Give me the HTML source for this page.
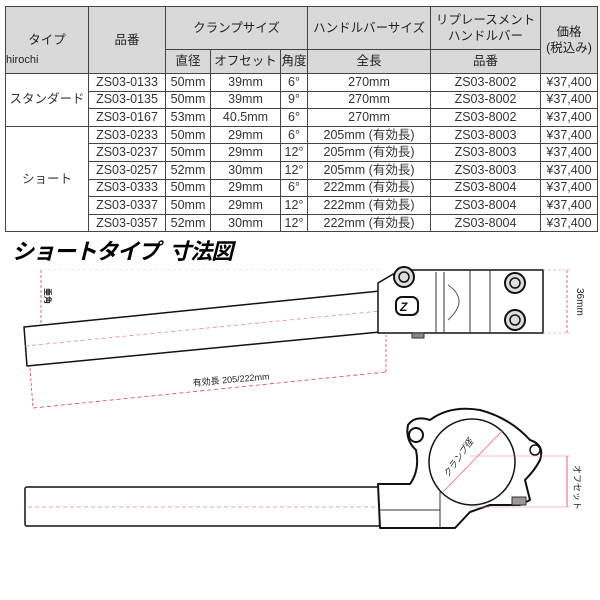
<!DOCTYPE html>
<html><head><meta charset="utf-8"><style>
body{margin:0;background:#fff;width:600px;height:600px;overflow:hidden;position:relative;font-family:"Liberation Sans","Noto Sans CJK JP",sans-serif}
table{position:absolute;left:5px;top:6px;border-collapse:collapse;width:592px;table-layout:fixed;font-size:12.5px;color:#333}
td{border:1px solid #444;text-align:center;padding:0;height:16.6px;line-height:15px;white-space:nowrap;overflow:hidden}
.h td{background:#d9d9d9;color:#222;font-size:12.5px}
.w{position:absolute;left:6px;top:54px;font-size:11px;color:#222}
</style></head><body>
<table>
<colgroup><col style="width:83px"><col style="width:77px"><col style="width:45px"><col style="width:70px"><col style="width:27px"><col style="width:123px"><col style="width:110px"><col style="width:57px"></colgroup>
<tr class="h"><td rowspan="2" style="height:66px">タイプ</td><td rowspan="2">品番</td><td colspan="3" style="height:42px">クランプサイズ</td><td>ハンドルバーサイズ</td><td style="line-height:16px">リプレースメント<br>ハンドルバー</td><td rowspan="2" style="line-height:16px">価格<br>(税込み)</td></tr>
<tr class="h"><td style="height:23px">直径</td><td>オフセット</td><td>角度</td><td>全長</td><td>品番</td></tr>
<tr><td rowspan="3">スタンダード</td><td>ZS03-0133</td><td>50mm</td><td>39mm</td><td>6°</td><td>270mm</td><td>ZS03-8002</td><td>¥37,400</td></tr>
<tr><td>ZS03-0135</td><td>50mm</td><td>39mm</td><td>9°</td><td>270mm</td><td>ZS03-8002</td><td>¥37,400</td></tr>
<tr><td>ZS03-0167</td><td>53mm</td><td>40.5mm</td><td>6°</td><td>270mm</td><td>ZS03-8002</td><td>¥37,400</td></tr>
<tr><td rowspan="6">ショート</td><td>ZS03-0233</td><td>50mm</td><td>29mm</td><td>6°</td><td>205mm (有効長)</td><td>ZS03-8003</td><td>¥37,400</td></tr>
<tr><td>ZS03-0237</td><td>50mm</td><td>29mm</td><td>12°</td><td>205mm (有効長)</td><td>ZS03-8003</td><td>¥37,400</td></tr>
<tr><td>ZS03-0257</td><td>52mm</td><td>30mm</td><td>12°</td><td>205mm (有効長)</td><td>ZS03-8003</td><td>¥37,400</td></tr>
<tr><td>ZS03-0333</td><td>50mm</td><td>29mm</td><td>6°</td><td>222mm (有効長)</td><td>ZS03-8004</td><td>¥37,400</td></tr>
<tr><td>ZS03-0337</td><td>50mm</td><td>29mm</td><td>12°</td><td>222mm (有効長)</td><td>ZS03-8004</td><td>¥37,400</td></tr>
<tr><td>ZS03-0357</td><td>52mm</td><td>30mm</td><td>12°</td><td>222mm (有効長)</td><td>ZS03-8004</td><td>¥37,400</td></tr>
</table>
<div class="w">hirochi</div>
<div style="position:absolute;left:12px;top:234px;font-size:22px;font-weight:bold;font-style:italic;color:#000;letter-spacing:-1px">ショートタイプ&nbsp; 寸法図</div>
<svg width="600" height="600" style="position:absolute;left:0;top:0" xmlns="http://www.w3.org/2000/svg">
<g fill="none" stroke-linejoin="round">
<polygon points="24,327 380,291 380,332 27,366" fill="#fff" stroke="#111" stroke-width="1.5"/>
<line x1="25" y1="346" x2="380" y2="311" stroke="#e88" stroke-dasharray="4,3" stroke-width="0.8"/>
<path d="M378,283 L400,270 L543,270 L543,333 L378,333 Z" fill="#fff" stroke="#111" stroke-width="1.5"/>
<line x1="436" y1="272" x2="436" y2="333" stroke="#333"/>
<line x1="444" y1="272" x2="444" y2="333" stroke="#333"/>
<path d="M448,285 Q470,300 448,320" stroke="#555"/>
<line x1="470" y1="270" x2="470" y2="333" stroke="#333"/>
<line x1="490" y1="270" x2="490" y2="333" stroke="#333"/>
<circle cx="404" cy="277" r="10" fill="#ddd" stroke="#111" stroke-width="2"/><circle cx="404" cy="277" r="5" stroke="#111" stroke-width="1.5"/>
<circle cx="515" cy="283" r="10" fill="#ddd" stroke="#111" stroke-width="2"/><circle cx="515" cy="283" r="5" stroke="#111" stroke-width="1.5"/>
<circle cx="515" cy="320" r="10" fill="#ddd" stroke="#111" stroke-width="2"/><circle cx="515" cy="320" r="5" stroke="#111" stroke-width="1.5"/>
<rect x="396" y="297" width="22" height="18" rx="6" stroke="#111" stroke-width="2"/>
<text x="400" y="311" font-size="12" font-weight="bold" font-style="italic" fill="#111" stroke="none" font-family="Liberation Sans">Z</text>
<rect x="412" y="333" width="12" height="5" fill="#888" stroke="#333"/>
<line x1="567" y1="270" x2="567" y2="333" stroke="#d44" stroke-dasharray="3,2" stroke-width="0.8"/>
<line x1="543" y1="270" x2="570" y2="270" stroke="#e88" stroke-dasharray="3,2" stroke-width="0.6"/>
<line x1="543" y1="333" x2="570" y2="333" stroke="#e88" stroke-dasharray="3,2" stroke-width="0.6"/>
<line x1="41" y1="270" x2="41" y2="325" stroke="#d44" stroke-dasharray="3,2" stroke-width="0.8"/>
<line x1="41" y1="270" x2="380" y2="270" stroke="#fbb" stroke-dasharray="3,3" stroke-width="0.5"/>
<line x1="33" y1="408" x2="386" y2="372" stroke="#d44" stroke-dasharray="4,3" stroke-width="0.8"/>
<line x1="386" y1="372" x2="386" y2="335" stroke="#d44" stroke-dasharray="3,2" stroke-width="0.8"/>
<line x1="30" y1="368" x2="33" y2="408" stroke="#d44" stroke-dasharray="3,2" stroke-width="0.8"/>
<rect x="25" y="487" width="355" height="39" rx="2" fill="#fff" stroke="#111" stroke-width="1.5"/>
<line x1="28" y1="507" x2="480" y2="507" stroke="#e88" stroke-dasharray="4,3" stroke-width="0.8"/>
<path d="M378,484 L410,484 Q420,470 416,450 Q405,440 408,425 Q415,415 430,420 Q450,405 480,410 Q510,418 530,440 Q545,445 540,460 Q535,470 525,480 L530,500 L520,505 L490,505 L470,512 L455,528 L380,528 Z" fill="#fff" stroke="#111" stroke-width="2"/>
<circle cx="472" cy="462" r="43" fill="#fff" stroke="#111" stroke-width="1.5"/>
<circle cx="416" cy="435" r="7" stroke="#111" stroke-width="2"/>
<circle cx="535" cy="450" r="5" stroke="#111" stroke-width="1.5"/>
<line x1="378" y1="510" x2="440" y2="510" stroke="#333"/>
<line x1="440" y1="490" x2="440" y2="528" stroke="#333"/>
<rect x="512" y="497" width="14" height="8" fill="#999" stroke="#333"/>
<line x1="443" y1="492" x2="503" y2="430" stroke="#e66" stroke-width="0.8"/>
<line x1="470" y1="456" x2="570" y2="456" stroke="#e88" stroke-width="0.6"/>
<line x1="470" y1="507" x2="570" y2="507" stroke="#e88" stroke-width="0.6"/>
<line x1="567" y1="456" x2="567" y2="507" stroke="#d44" stroke-width="0.8"/>
</g>
<g font-family="Liberation Sans, Noto Sans CJK JP, sans-serif" fill="#222">
<text transform="translate(577,288) rotate(90)" font-size="10">36mm</text>
<text transform="translate(45,288) rotate(90)" font-size="8" font-weight="bold">垂角</text>
<text transform="translate(193,386) rotate(-5)" font-size="9">有効長 205/222mm</text>
<text transform="translate(448,478) rotate(-55)" font-size="9" font-style="italic">クランプ径</text>
<text transform="translate(574,465) rotate(90)" font-size="9">オフセット</text>
</g>
</svg>
</body></html>
